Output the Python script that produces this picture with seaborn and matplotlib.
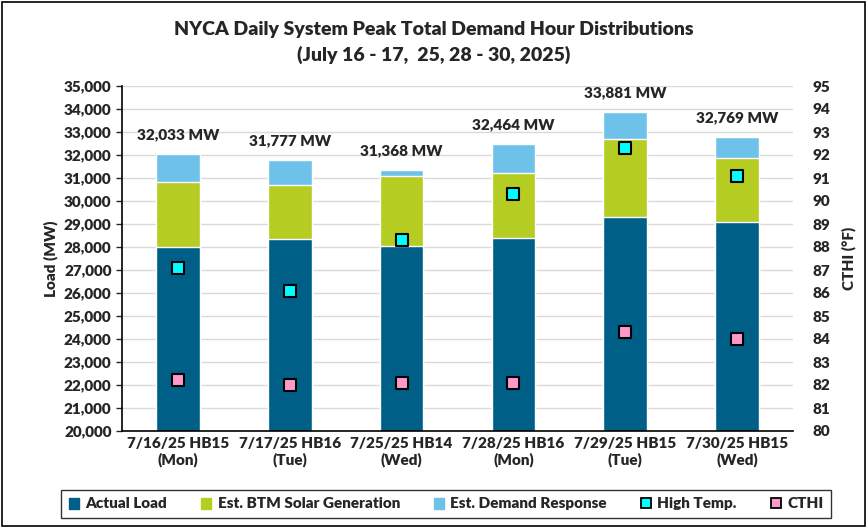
import numpy as np
import pandas as pd
import matplotlib
matplotlib.use("Agg")
import matplotlib.pyplot as plt
from matplotlib.patches import Patch, Rectangle
from matplotlib.lines import Line2D
from matplotlib.ticker import FuncFormatter, MultipleLocator
import seaborn as sns

# data
days = ["7/16/25 HB15\n(Mon)", "7/17/25 HB16\n(Tue)", "7/25/25 HB14\n(Wed)",
        "7/28/25 HB16\n(Mon)", "7/29/25 HB15\n(Tue)", "7/30/25 HB15\n(Wed)"]
actual_load = [28010, 28330, 28040, 28380, 29300, 29070]
btm_solar = [2830, 2350, 3050, 2850, 3400, 2800]
total_peak = [32033, 31777, 31368, 32464, 33881, 32769]
high_temp = [87.1, 86.1, 88.3, 90.3, 92.3, 91.1]
cthi = [82.2, 82.0, 82.1, 82.1, 84.3, 84.0]

c_load = "#005F87"
c_solar = "#B5CC22"
c_dr = "#6EC1E8"
c_temp = "#00FFFF"
c_cthi = "#FF99CC"

sns.set_style("white")
plt.rcParams["font.family"] = ["Lato", "DejaVu Sans"]
plt.rcParams["font.weight"] = "bold"

df = pd.DataFrame({"day": days, "load": actual_load, "solar": btm_solar,
                   "total": total_peak, "temp": high_temp, "cthi": cthi})
df["load_solar"] = df["load"] + df["solar"]

fig = plt.figure(figsize=(8.68, 5.28), dpi=100)
ax = fig.add_axes([122 / 868, 1 - 431 / 528, (793 - 122) / 868, (431 - 86) / 528])

# stacked bars drawn as overlapping cumulative totals
sns.barplot(data=df, x="day", y="total", color=c_dr, width=0.39, ax=ax, saturation=1, zorder=2)
sns.barplot(data=df, x="day", y="load_solar", color=c_solar, width=0.39, ax=ax, saturation=1, zorder=2)
sns.barplot(data=df, x="day", y="load", color=c_load, width=0.39, ax=ax, saturation=1, zorder=2)

ax.set_ylim(20000, 35000)
ax.set_xlim(-0.5, 5.5)
ax.yaxis.set_major_locator(MultipleLocator(1000))
ax.yaxis.set_major_formatter(FuncFormatter(lambda v, p: f"{int(v):,}"))
ax.grid(axis="y", color="#D9D9D9", linewidth=1, zorder=0)
ax.set_axisbelow(True)
ax.set_xlabel("")
ax.set_ylabel("Load (MW)", fontsize=11, fontweight="bold")
ax.tick_params(axis="y", labelsize=11, length=4, direction="out", left=True, width=1)
ax.tick_params(axis="x", labelsize=11, length=0, pad=4)
ax.set_xticks(np.arange(-0.5, 6, 1), minor=True)
ax.tick_params(axis="x", which="minor", length=5, direction="inout", width=1)
for lbl in ax.get_xticklabels() + ax.get_yticklabels():
    lbl.set_fontweight("heavy")
for s in ["top", "right"]:
    ax.spines[s].set_visible(False)
for s in ["left", "bottom"]:
    ax.spines[s].set_color("black")
    ax.spines[s].set_linewidth(1.2)

for i, t in enumerate(total_peak):
    ax.text(i, t + 830, f"{t:,} MW", ha="center", va="center", fontsize=11, fontweight="heavy")

ax2 = ax.twinx()
sns.scatterplot(x=np.arange(len(days)), y=high_temp, marker="s", s=70, color=c_temp,
                edgecolor="black", linewidth=1.5, ax=ax2, zorder=5)
sns.scatterplot(x=np.arange(len(days)), y=cthi, marker="s", s=70, color=c_cthi,
                edgecolor="black", linewidth=1.5, ax=ax2, zorder=5)
ax2.set_ylim(80, 95)
ax2.yaxis.set_major_locator(MultipleLocator(1))
ax2.set_ylabel("CTHI (°F)", fontsize=11, fontweight="heavy", rotation=90, labelpad=8)
ax2.tick_params(axis="y", labelsize=11, length=0, pad=14)
for lbl in ax2.get_yticklabels():
    lbl.set_fontweight("heavy")
for s in ["top", "right", "left", "bottom"]:
    ax2.spines[s].set_visible(False)
ax2.set_xlim(-0.5, 5.5)
ax.yaxis.label.set_fontweight("heavy")

fig.text(0.5, 1 - 30 / 528, "NYCA Daily System Peak Total Demand Hour Distributions",
         ha="center", va="center", fontsize=14, fontweight="heavy")
fig.text(0.5, 1 - 55 / 528, "(July 16 - 17,  25, 28 - 30, 2025)",
         ha="center", va="center", fontsize=14, fontweight="heavy")

handles = [Patch(color=c_load), Patch(color=c_solar), Patch(color=c_dr),
           Line2D([], [], marker="s", linestyle="", markerfacecolor=c_temp, markeredgecolor="black",
                  markeredgewidth=1.3, markersize=7),
           Line2D([], [], marker="s", linestyle="", markerfacecolor=c_cthi, markeredgecolor="black",
                  markeredgewidth=1.3, markersize=7)]
labels = ["Actual Load", "Est. BTM Solar Generation", "Est. Demand Response", "High Temp.", "CTHI"]
leg = fig.legend(handles, labels, loc="center", bbox_to_anchor=(446 / 868, 1 - 504 / 528), ncol=5,
                 frameon=True, fancybox=False, edgecolor="black",
                 prop={"size": 11, "weight": "heavy"},
                 handlelength=0.7, handleheight=0.7, handletextpad=0.4, columnspacing=2.2,
                 borderpad=0.5)
leg.get_frame().set_linewidth(1.0)

fig.patches.append(Rectangle((0.002, 0.004), 0.994, 0.992, transform=fig.transFigure,
                             fill=False, edgecolor="black", linewidth=1.2))

fig.savefig("out.png", dpi=100)
